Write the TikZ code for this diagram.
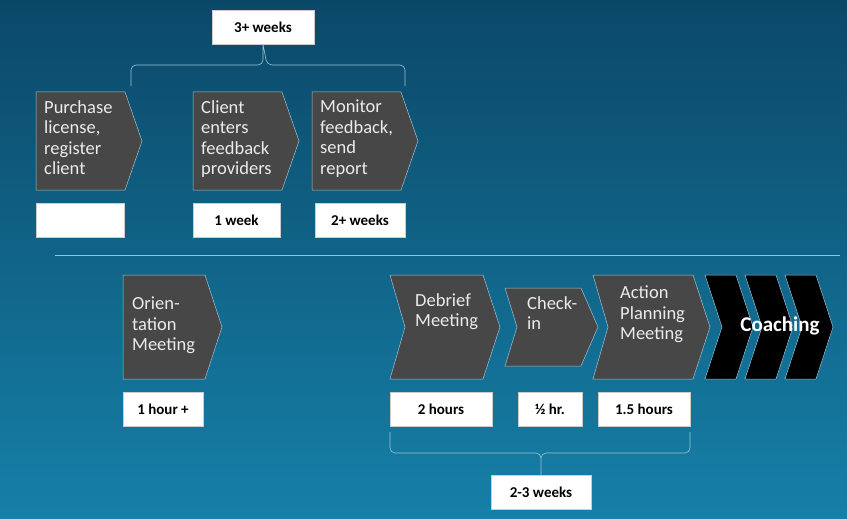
\documentclass[tikz,border=0pt]{standalone}
\usepackage{fontspec}
\setmainfont{Carlito}
\usetikzlibrary{positioning}
\definecolor{bgtop}{HTML}{0B4868}
\definecolor{bgbot}{HTML}{1680A8}
\definecolor{stepgray}{HTML}{474747}
\definecolor{rimblue}{HTML}{9CC3D3}
\newcommand\chev[5]{% x1 x2 y1 y2 notch
  \draw[stepbox] (#1,#3) -- ({#2-17},#3) -- (#2,{(#3+#4)/2}) -- ({#2-17},#4)
    -- (#1,#4) -- ({#1+#5},{(#3+#4)/2}) -- cycle;}
\begin{document}
\begin{tikzpicture}[x=1pt,y=-1pt,
    stepbox/.style={fill=stepgray,draw=rimblue,line width=.5pt},
    blackchev/.style={fill=black,draw=rimblue,line width=.5pt},
    steptext/.style={anchor=north west,align=left,text=white!92!black,font=\fontsize{18.5}{20.5}\selectfont,inner sep=0pt},
    timebox/.style={fill=white,draw=gray!40,minimum height=34pt,inner sep=0pt,font=\bfseries\fontsize{15}{17}\selectfont},
    brace/.style={draw=rimblue,line width=.6pt,rounded corners=5pt}
  ]
  \useasboundingbox (0,0) rectangle (847,519);
  \shade[top color=bgtop,bottom color=bgbot] (0,0) rectangle (847,519);

  %top row
  \chev{36}{142}{92}{190}{0}
  \chev{193}{299}{92}{190}{0}
  \chev{312}{418}{92}{190}{0}
  \node[steptext] (purchase) at (44,100) {Purchase\\license,\\register\\client};
  \node[steptext] (client) at (201,100) {Client\\enters\\feedback\\providers};
  \node[steptext] (monitor) at (320,100) {Monitor\\feedback,\\send\\report};

  \node[timebox,minimum width=88pt] (t0) at (80,220) {};
  \node[timebox,minimum width=87pt] (t1) at (236.5,220) {1 week};
  \node[timebox,minimum width=90pt] (t2) at (360,220) {2+ weeks};
  \node[timebox,minimum width=102pt] (t3) at (263,27) {3+ weeks};

  \draw[brace] (131,86) -- (131,65) -- (263,65) -- (t3.south) (t3.south) -- (267,65) -- (405,65) -- (405,86);

  %separator
  \draw[rimblue!80!cyan,line width=1pt] (55,255) -- (840,255);

  %bottom row
  \chev{123}{222}{275}{379}{0}
  \chev{390}{500}{275}{379}{15}
  \chev{505}{598}{288}{366}{12}
  \chev{593}{710}{275}{379}{15}
  \foreach \cx in {705,745,785}
    \draw[blackchev] (\cx,275) -- ({\cx+31},275) -- ({\cx+48},327) -- ({\cx+31},379)
      -- (\cx,379) -- ({\cx+17},327) -- cycle;
  \node[steptext] (orient) at (132,297) {Orien-\\tation\\Meeting};
  \node[steptext] (debrief) at (415,293) {Debrief\\Meeting};
  \node[steptext] (checkin) at (527,296) {Check-\\in};
  \node[steptext] (action) at (620,286) {Action\\Planning\\Meeting};
  \node[font=\bfseries\fontsize{21}{23}\selectfont,text=white] (coach) at (780,326) {Coaching};

  \node[timebox,minimum width=80pt] (b0) at (163,409) {1 hour +};
  \node[timebox,minimum width=102pt] (b1) at (441,409) {2 hours};
  \node[timebox,minimum width=64pt] (b2) at (550,409) {½ hr.};
  \node[timebox,minimum width=92pt] (b3) at (644,409) {1.5 hours};
  \node[timebox,minimum width=100pt] (b4) at (541,492) {2-3 weeks};

  \draw[brace] (390,432) -- (390,453) -- (541,453) -- (b4.north) (b4.north) -- (541,453) -- (690,453) -- (690,432);
\end{tikzpicture}
\end{document}
